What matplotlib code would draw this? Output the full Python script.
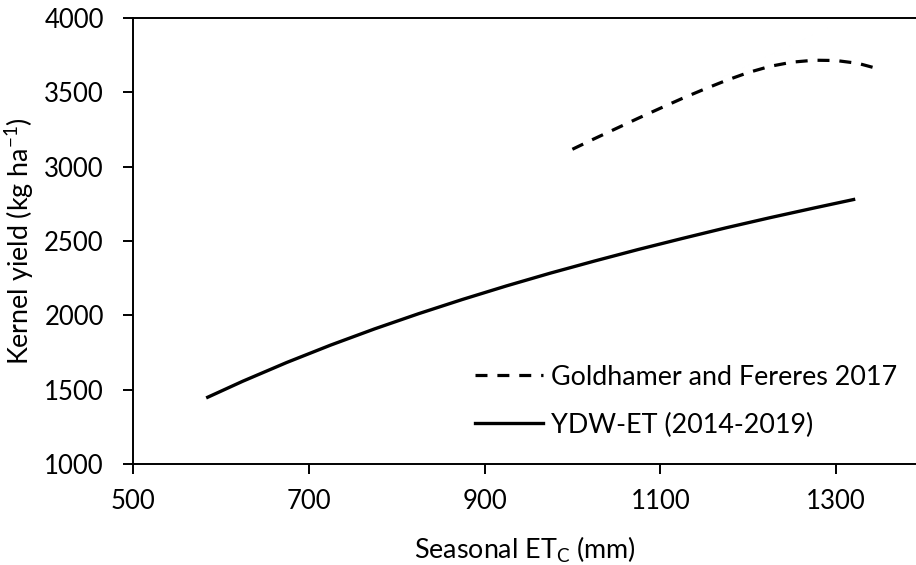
import numpy as np
import matplotlib.pyplot as plt

plt.rcdefaults()
plt.rc('font', family='Lato', size=19.4)
plt.rc('xtick', labelsize=18.5)
plt.rc('ytick', labelsize=18.5)
plt.rc('axes', linewidth=1.4)

# Goldhamer and Fereres (2017) production function
gf_et = [1000, 1025, 1050, 1075, 1100, 1125, 1150, 1175, 1200, 1225,
         1250, 1275, 1300, 1325, 1350]
gf_yield = [3117, 3188, 3257, 3326, 3393, 3459, 3521, 3580, 3633, 3675,
            3703, 3716, 3714, 3695, 3655]

# YDW-ET fit, 2014-2019
ydw_et = [585, 625, 675, 725, 775, 825, 875, 925, 975, 1025,
          1075, 1125, 1175, 1225, 1275, 1320]
ydw_yield = [1449, 1557, 1683, 1800, 1909, 2011, 2107, 2198, 2284, 2365,
             2443, 2517, 2589, 2657, 2722, 2779]

xticks = [500, 700, 900, 1100, 1300]
yticks = [1000, 1500, 2000, 2500, 3000, 3500, 4000]

W, H = 916, 565
fig = plt.figure(figsize=(W / 100, H / 100), dpi=100)
ax = fig.add_axes([133 / W, (H - 464) / H, (W - 133) / W, (464 - 18) / H])

ax.plot(gf_et, gf_yield, color='black', lw=2.3, linestyle=(0, (3.75, 3.1)),
        dash_capstyle='butt', label='Goldhamer and Fereres 2017')
ax.plot(ydw_et, ydw_yield, color='black', lw=2.4, label='YDW-ET (2014-2019)')

ax.set_xlim(500, 1391)
ax.set_ylim(1000, 4000)
ax.set_xticks(xticks)
ax.set_yticks(yticks)
ax.spines['right'].set_visible(False)
ax.tick_params(direction='out', length=7, width=1.4)
ax.tick_params(axis='x', pad=11)
ax.tick_params(axis='y', pad=14)

ax.set_xlabel('Seasonal ET$_\\mathregular{C}$ (mm)')
ax.set_ylabel('Kernel yield (kg ha$^\\mathregular{-1}$)')
ax.xaxis.set_label_coords(0.5, -0.159)
ax.yaxis.set_label_coords(-0.124, 0.5)

ax.legend(loc='upper left', bbox_to_anchor=(0.437, 0.223), frameon=False,
          handlelength=2.5, handletextpad=0.3, labelspacing=0.85,
          borderaxespad=0, borderpad=0)

fig.savefig('out.png', dpi=100)
